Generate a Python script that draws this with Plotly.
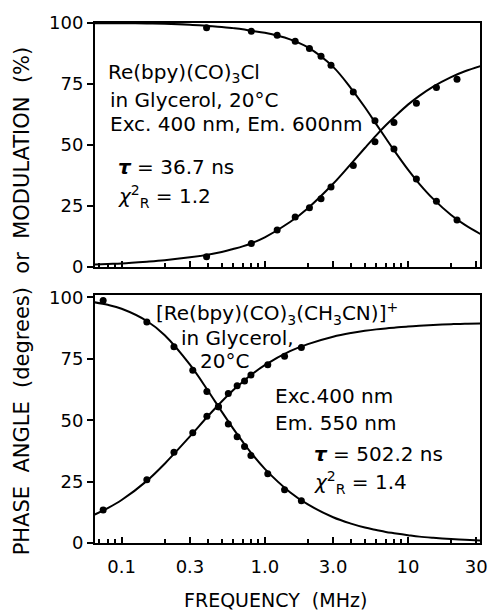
import plotly.graph_objects as go

# ---- data ----
# top panel: Re(bpy)(CO)3Cl, tau = 36.7 ns
freq_top_pts = [0.392, 0.805, 1.22, 1.63, 2.05, 2.47, 2.90, 4.15, 5.88, 7.98, 11.45, 15.8, 22.0]
mod_top_pts = [98.0, 96.6, 95.0, 92.5, 89.5, 86.4, 82.7, 71.7, 59.9, 48.3, 36.0, 26.8, 19.1]
phase_top_pts = [4.1, 9.5, 15.0, 20.4, 24.2, 27.9, 32.7, 41.5, 51.3, 59.2, 67.1, 73.5, 76.9]

# bottom panel: [Re(bpy)(CO)3(CH3CN)]+, tau = 502.2 ns
freq_bot_pts = [0.0743, 0.150, 0.232, 0.314, 0.394, 0.474, 0.556, 0.641, 0.722, 0.800, 1.049, 1.374, 1.80]
mod_bot_pts = [98.8, 90.0, 79.9, 70.3, 61.7, 55.5, 48.5, 43.3, 39.3, 35.6, 28.2, 21.7, 17.2]
phase_bot_pts = [13.4, 25.8, 37.0, 44.9, 51.6, 55.5, 60.9, 64.0, 66.0, 68.4, 72.6, 76.1, 79.6]

# fitted curves
freq_curve = [0.065, 0.08, 0.1, 0.15, 0.2, 0.3, 0.4, 0.5, 0.6, 0.7, 0.8, 1.0, 1.5, 2, 3, 4, 5,
              6, 7, 8, 10, 12, 15, 20, 25, 32]
phase_top_curve = [0.9, 1.1, 1.3, 2.0, 2.6, 3.8, 4.9, 6.0, 7.2, 8.3, 9.5, 12.0, 18.3, 24.0, 34.0,
                   42.2, 48.7, 53.9, 58.0, 61.3, 66.5, 70.1, 73.9, 77.8, 80.2, 82.3]
mod_top_curve = [99.9, 99.9, 99.9, 99.8, 99.7, 99.3, 98.8, 98.4, 97.9, 97.4, 96.8, 96.0, 93.3,
                 90.0, 82.0, 73.2, 65.4, 58.5, 52.7, 47.7, 39.8, 34.0, 27.8, 21.2, 17.1, 13.4]
phase_bot_curve = [11.6, 14.2, 17.5, 25.3, 32.3, 43.4, 51.6, 57.6, 62.2, 65.6, 68.4, 72.4, 78.1,
                   81.0, 84.0, 85.5, 86.4, 87.0, 87.4, 87.7, 88.2, 88.5, 88.8, 89.1, 89.3, 89.4]
mod_bot_curve = [98.0, 97.0, 95.4, 90.4, 84.6, 72.6, 62.1, 53.5, 46.7, 41.3, 36.8, 30.2, 20.7,
                 15.7, 10.5, 7.9, 6.3, 5.3, 4.5, 4.0, 3.2, 2.6, 2.1, 1.6, 1.3, 1.0]

x_tick_vals = [0.1, 0.3, 1, 3, 10, 30]
x_tick_text = ["0.1", "0.3", "1.0", "3.0", "10", "30"]
x_minor_vals = [0.07, 0.08, 0.09, 0.2, 0.4, 0.5, 0.6, 0.7, 0.8, 0.9,
                2, 4, 5, 6, 7, 8, 9, 20]
y_tick_vals = [0, 25, 50, 75, 100]

FONT = "DejaVu Sans"
fig = go.Figure()

line_style = dict(color="black", width=2, shape="spline")
marker_style = dict(color="black", size=7)

for xa, ya, curves, pts in [
    ("x", "y", [phase_top_curve, mod_top_curve], (freq_top_pts, [phase_top_pts, mod_top_pts])),
    ("x2", "y2", [phase_bot_curve, mod_bot_curve], (freq_bot_pts, [phase_bot_pts, mod_bot_pts])),
]:
    for c in curves:
        fig.add_trace(go.Scatter(x=freq_curve, y=c, mode="lines", line=line_style,
                                 xaxis=xa, yaxis=ya, showlegend=False, hoverinfo="skip"))
    for p in pts[1]:
        fig.add_trace(go.Scatter(x=pts[0], y=p, mode="markers", marker=marker_style,
                                 xaxis=xa, yaxis=ya, showlegend=False))

x_common = dict(type="log", range=[-1.186, 1.503], showline=True, mirror=True,
                linecolor="black", linewidth=2, showgrid=False, zeroline=False,
                tickvals=x_tick_vals, ticktext=x_tick_text, ticks="inside",
                ticklen=6, tickwidth=1.5, tickcolor="black",
                minor=dict(tickmode="array", tickvals=x_minor_vals, ticks="inside",
                           ticklen=4, tickwidth=1.5, tickcolor="black", showgrid=False),
                tickfont=dict(family=FONT, size=18, color="black"))
y_common = dict(showline=True, mirror=True, linecolor="black", linewidth=2,
                showgrid=False, zeroline=False, tickvals=y_tick_vals, ticks="outside",
                ticklen=6, tickwidth=1.5, tickcolor="black",
                tickfont=dict(family=FONT, size=18, color="black"))

fig.update_layout(
    width=500, height=611,
    margin=dict(l=95, r=15, t=20, b=68),
    paper_bgcolor="white", plot_bgcolor="white",
    xaxis=dict(**x_common, anchor="y", showticklabels=False),
    yaxis=dict(**y_common, domain=[0.5315, 1.0], range=[0, 100], anchor="x"),
    xaxis2=dict(**x_common, anchor="y2", ticklabelstandoff=6),
    yaxis2=dict(**y_common, domain=[0, 0.476], range=[0, 100.8], anchor="x2"),
)

def px(x):
    return (x - 95) / 390.0

def py(y):
    return (543 - y) / 523.0

ann_font = dict(family=FONT, size=20, color="black")
notes = [
    ("Re(bpy)(CO)<sub>3</sub>Cl", 106, 70),
    ("in Glycerol, 20°C", 108, 97),
    ("Exc. 400 nm, Em. 600nm", 108, 122),
    ("<b><i>τ</i></b> = 36.7 ns", 116, 165),
    ("<i>χ</i><sup>2</sup><sub>R</sub> = 1.2", 116, 195),
    ("[Re(bpy)(CO)<sub>3</sub>(CH<sub>3</sub>CN)]<sup>+</sup>", 155, 312),
    ("in Glycerol,", 180, 337),
    ("20°C", 199, 360),
    ("Exc.400 nm", 275, 395),
    ("Em. 550 nm", 275, 422),
    ("<b><i>τ</i></b> = 502.2 ns", 315, 453),
    ("<i>χ</i><sup>2</sup><sub>R</sub> = 1.4", 315, 482),
]
for t, x, y in notes:
    fig.add_annotation(text=t, x=px(x), y=py(y), xref="paper", yref="paper",
                       xanchor="left", yanchor="middle", showarrow=False, font=ann_font)

fig.add_annotation(text="PHASE\u00a0\u00a0ANGLE\u00a0\u00a0(degrees)\u00a0\u00a0or\u00a0\u00a0MODULATION\u00a0\u00a0(%)",
                   x=px(21), y=py(299), xref="paper", yref="paper", textangle=-90,
                   xanchor="center", yanchor="middle", showarrow=False,
                   font=dict(family=FONT, size=21, color="black"))

fig.add_annotation(text="FREQUENCY\u00a0\u00a0(MHz)", x=px(278), y=py(600),
                   xref="paper", yref="paper", xanchor="center", yanchor="middle",
                   showarrow=False, font=dict(family=FONT, size=19, color="black"))

fig.write_html("out.html")
